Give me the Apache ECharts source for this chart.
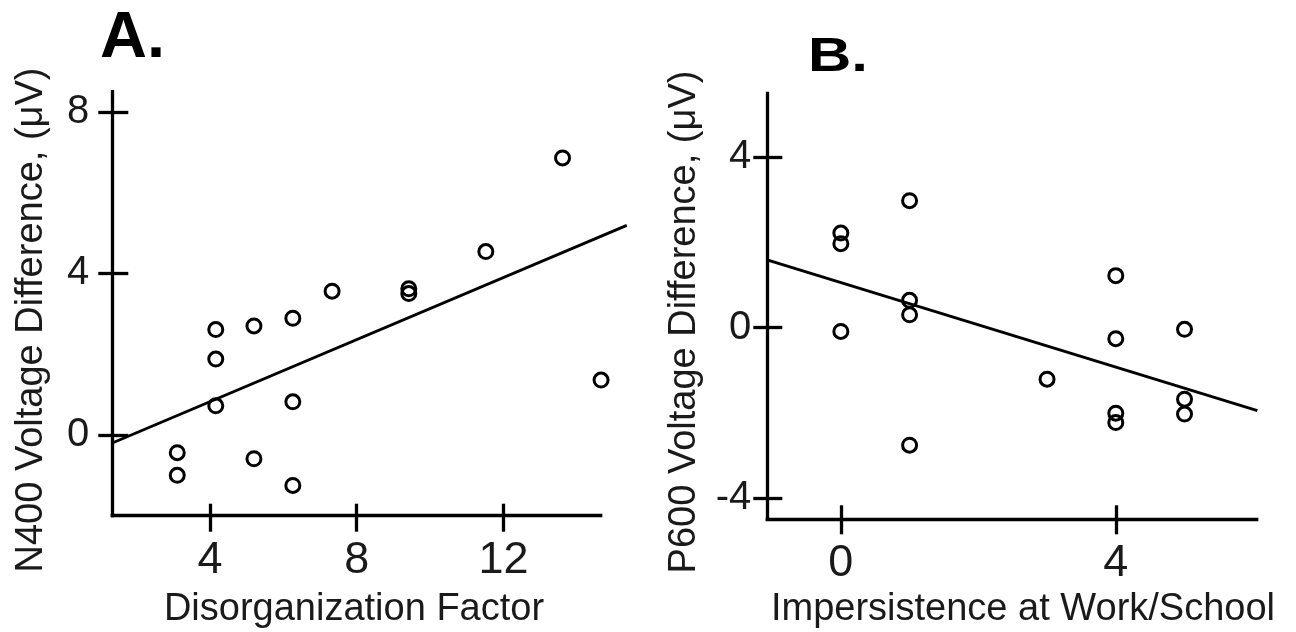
<!DOCTYPE html>
<html>
<head>
<meta charset="utf-8">
<style>
  html, body { margin: 0; padding: 0; background: #ffffff; }
  #chart { width: 1296px; height: 632px; }
</style>
<script src="https://cdn.jsdelivr.net/npm/echarts@6.0.0/dist/echarts.min.js"></script>
</head>
<body>
<div id="chart"></div>
<script>
// ---------- Data ----------
// Panel A: Disorganization Factor vs N400 voltage difference
const aX = [4.16, 5.20, 6.26, 7.33, 4.16, 4.16, 6.26, 3.11, 3.11, 5.20, 6.26, 9.42, 9.42, 11.52, 13.61, 14.66];
const aY = [2.61, 2.70, 2.89, 3.56, 1.88, 0.72, 0.82, -0.44, -1.00, -0.59, -1.25, 3.62, 3.50, 4.54, 6.86, 1.36];
const aFitX = [1.34, 15.36];
const aFitY = [-0.20, 5.19];
const aXTicks = [4, 8, 12];
const aYTicks = [0, 4, 8];

// Panel B: Impersistence at Work/School vs P600 voltage difference
const bX = [0, 0, 0, 1, 1, 1, 1, 3, 4, 4, 4, 4, 5, 5, 5];
const bY = [2.22, 1.97, -0.09, 2.98, 0.64, 0.30, -2.76, -1.21, 1.22, -0.26, -2.01, -2.23, -0.04, -1.68, -2.03];
const bFitX = [-1.05, 6.06];
const bFitY = [1.58, -1.95];
const bXTicks = [0, 4];
const bYTicks = [-4, 0, 4];

const panelLetters = ['A.', 'B.'];
const xTitles = ['Disorganization Factor', 'Impersistence at Work/School'];
const yTitles = ['N400 Voltage Difference, (\u03bcV)', 'P600 Voltage Difference, (\u03bcV)'];

// ---------- Styles / layout ----------
const FONT = '"Liberation Sans", Arial, Helvetica, sans-serif';
const INK = '#000000';
const TXT = '#1a1a1a';
const AXW = 3.3;

// axis ranges (visible axis lines)
const A_RANGE = { xMin: 1.34, xMax: 14.65, yMin: -2, yMax: 8.5 };
const B_RANGE = { xMin: -1.07, xMax: 6.05, yMin: -4.5, yMax: 5.5 };
// pixel boxes of the visible axes
const A_BOX = { left: 112.3, top: 91.7, width: 488.4, height: 424 };
const B_BOX = { left: 767.3, top: 93.3, width: 489.4, height: 426 };

function pairs(xs, ys) { return xs.map((x, i) => [x, ys[i]]); }

function xAxisPair(grid, min, max, ticks, outLen, inLen, margin) {
  return [
    {
      type: 'value', gridIndex: grid, position: 'bottom', min: min, max: max,
      axisLine: { show: true, onZero: false, lineStyle: { color: INK, width: AXW, cap: 'square' } },
      axisTick: { show: true, inside: false, length: outLen, customValues: ticks, lineStyle: { color: INK, width: AXW } },
      axisLabel: { show: true, customValues: ticks, margin: margin, fontSize: 45, fontFamily: FONT, color: TXT },
      splitLine: { show: false }
    },
    {
      type: 'value', gridIndex: grid, position: 'bottom', min: min, max: max,
      axisLine: { show: false, onZero: false },
      axisTick: { show: true, inside: true, length: inLen, customValues: ticks, lineStyle: { color: INK, width: AXW } },
      axisLabel: { show: false },
      splitLine: { show: false }
    }
  ];
}

function yAxisPair(grid, min, max, ticks, outLen, inLen, margin) {
  return [
    {
      type: 'value', gridIndex: grid, position: 'left', min: min, max: max,
      axisLine: { show: true, onZero: false, lineStyle: { color: INK, width: AXW, cap: 'square' } },
      axisTick: { show: true, inside: false, length: outLen, customValues: ticks, lineStyle: { color: INK, width: AXW } },
      axisLabel: { show: true, customValues: ticks, margin: margin, fontSize: 40, fontFamily: FONT, color: TXT },
      splitLine: { show: false }
    },
    {
      type: 'value', gridIndex: grid, position: 'left', min: min, max: max,
      axisLine: { show: false, onZero: false },
      axisTick: { show: true, inside: true, length: inLen, customValues: ticks, lineStyle: { color: INK, width: AXW } },
      axisLabel: { show: false },
      splitLine: { show: false }
    }
  ];
}

function hiddenAxis(grid, min, max) {
  return { type: 'value', gridIndex: grid, min: min, max: max, show: false,
           axisLine: { show: false, onZero: false }, splitLine: { show: false } };
}

// The fitted lines run slightly past the end of the drawn x axis, so each is
// drawn on an invisible grid whose x range extends to the line's end, with the
// same pixels-per-unit scale as the visible axes.
function extendedBox(box, range, newXMax) {
  const pxPerUnit = box.width / (range.xMax - range.xMin);
  return { left: box.left, top: box.top, height: box.height,
           width: (newXMax - range.xMin) * pxPerUnit };
}
const A_FIT_BOX = extendedBox(A_BOX, A_RANGE, aFitX[1]);
const B_FIT_BOX = extendedBox(B_BOX, B_RANGE, bFitX[1]);

const scatterStyle = {
  type: 'scatter', symbol: 'circle', symbolSize: 14, clip: false,
  itemStyle: { color: 'rgba(0,0,0,0)', borderColor: INK, borderWidth: 3, opacity: 1 },
  emphasis: { disabled: true }, z: 3
};
const fitStyle = {
  type: 'line', symbol: 'none', clip: false,
  lineStyle: { color: INK, width: 2.9 }, emphasis: { disabled: true }, z: 2
};

const chart = echarts.init(document.getElementById('chart'), null, { renderer: 'canvas' });

const gridOpt = (b) => Object.assign({ outerBoundsMode: 'none', containLabel: false }, b);

const option = {
  animation: false,
  backgroundColor: '#ffffff',
  grid: [gridOpt(A_BOX), gridOpt(B_BOX), gridOpt(A_FIT_BOX), gridOpt(B_FIT_BOX)],
  xAxis: [].concat(
    xAxisPair(0, A_RANGE.xMin, A_RANGE.xMax, aXTicks, 16, 12, 22),
    xAxisPair(1, B_RANGE.xMin, B_RANGE.xMax, bXTicks, 15, 14, 22),
    [hiddenAxis(2, A_RANGE.xMin, aFitX[1]), hiddenAxis(3, B_RANGE.xMin, bFitX[1])]
  ),
  yAxis: [].concat(
    yAxisPair(0, A_RANGE.yMin, A_RANGE.yMax, aYTicks, 14, 16, 23),
    yAxisPair(1, B_RANGE.yMin, B_RANGE.yMax, bYTicks, 14, 15, 16),
    [hiddenAxis(2, A_RANGE.yMin, A_RANGE.yMax), hiddenAxis(3, B_RANGE.yMin, B_RANGE.yMax)]
  ),
  series: [
    Object.assign({}, fitStyle, { xAxisIndex: 4, yAxisIndex: 4, data: pairs(aFitX, aFitY) }),
    Object.assign({}, scatterStyle, { xAxisIndex: 0, yAxisIndex: 0, data: pairs(aX, aY) }),
    Object.assign({}, fitStyle, { xAxisIndex: 5, yAxisIndex: 5, data: pairs(bFitX, bFitY) }),
    Object.assign({}, scatterStyle, { xAxisIndex: 2, yAxisIndex: 2, data: pairs(bX, bY) })
  ],
  graphic: [
    { type: 'text', x: 100, y: 39, style: { text: panelLetters[0], font: 'bold 65px ' + FONT, fill: INK, textAlign: 'left', textVerticalAlign: 'middle' } },
    { type: 'text', x: 808, y: 58, scaleX: 1.25, style: { text: panelLetters[1], font: 'bold 48px ' + FONT, fill: INK, textAlign: 'left', textVerticalAlign: 'middle' } },
    { type: 'text', x: 354, y: 610, style: { text: xTitles[0], font: '38px ' + FONT, fill: TXT, textAlign: 'center', textVerticalAlign: 'middle' } },
    { type: 'text', x: 1023, y: 610, style: { text: xTitles[1], font: '38px ' + FONT, fill: TXT, textAlign: 'center', textVerticalAlign: 'middle' } },
    { type: 'text', x: 32, y: 320, rotation: Math.PI / 2, style: { text: yTitles[0], font: '38px ' + FONT, fill: TXT, textAlign: 'center', textVerticalAlign: 'middle' } },
    { type: 'text', x: 685, y: 322, rotation: Math.PI / 2, style: { text: yTitles[1], font: '38px ' + FONT, fill: TXT, textAlign: 'center', textVerticalAlign: 'middle' } }
  ]
};

chart.setOption(option);
</script>
</body>
</html>
